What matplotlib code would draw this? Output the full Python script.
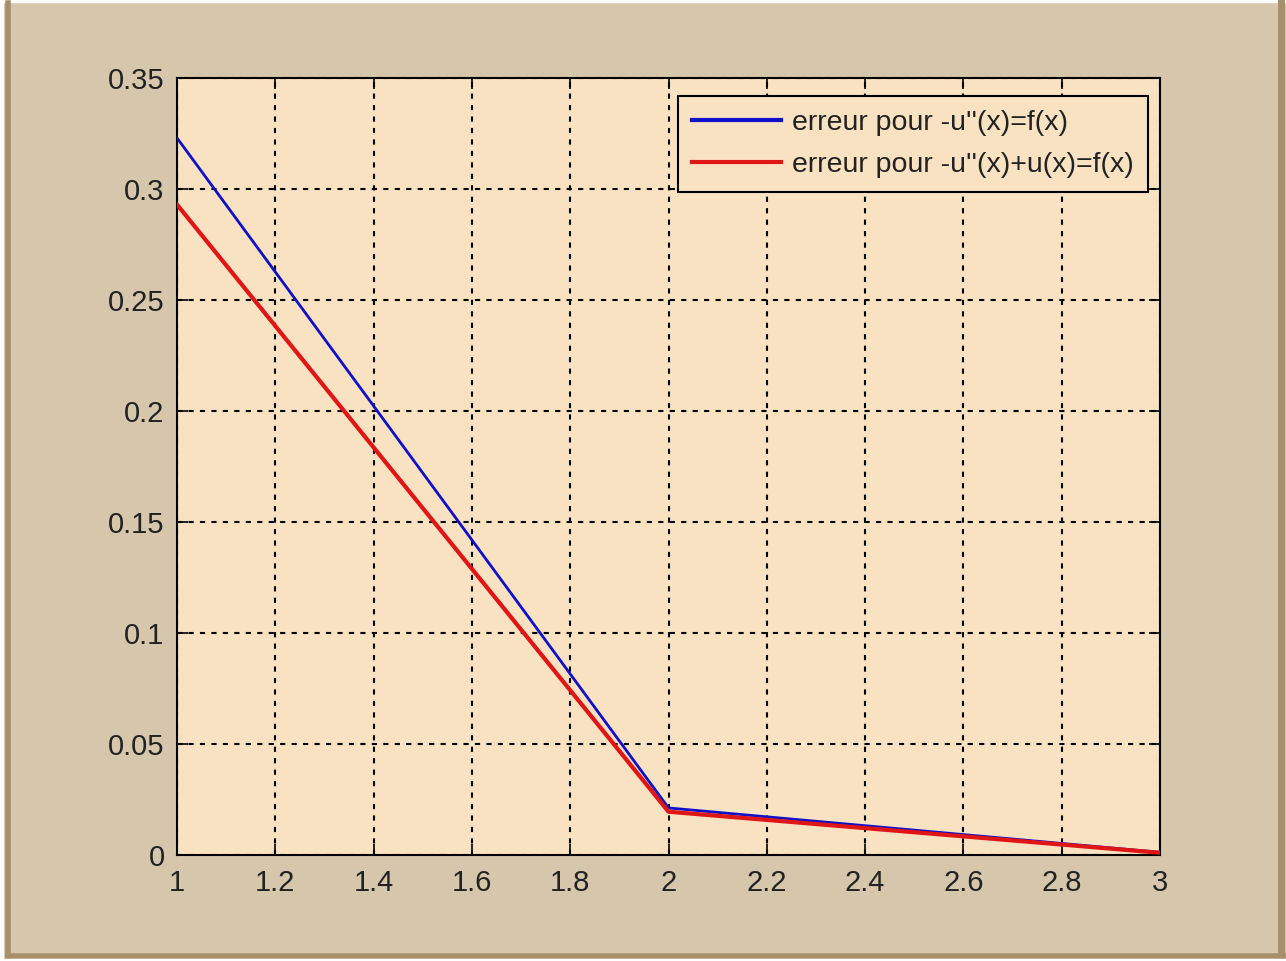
import matplotlib
matplotlib.use("Agg")
import matplotlib.pyplot as plt
from matplotlib.lines import Line2D

# Error of the finite-difference solution at the grid nodes
x_nodes = [1.0, 2.0, 3.0]
err_poisson = [0.323, 0.0212, 0.0012]        # -u''(x) = f(x)
err_helmholtz = [0.293, 0.0195, 0.0010]      # -u''(x) + u(x) = f(x)
labels = ["erreur pour -u''(x)=f(x)", "erreur pour -u''(x)+u(x)=f(x)"]

x_ticks = [1, 1.2, 1.4, 1.6, 1.8, 2, 2.2, 2.4, 2.6, 2.8, 3]
x_tick_labels = ["1", "1.2", "1.4", "1.6", "1.8", "2", "2.2", "2.4", "2.6", "2.8", "3"]
y_ticks = [0, 0.05, 0.1, 0.15, 0.2, 0.25, 0.3, 0.35]
y_tick_labels = ["0", "0.05", "0.1", "0.15", "0.2", "0.25", "0.3", "0.35"]

fig_bg = "#D5C6AC"
ax_bg = "#F8E2C2"
frame_col = "#A88F6C"

plt.rcParams["font.family"] = ["Liberation Sans", "DejaVu Sans"]

W, H = 1286, 961
fig = plt.figure(figsize=(W / 100, H / 100), dpi=100)
fig.patch.set_facecolor(fig_bg)

# window frame: thin white margin and a brown edge on the left, right and bottom
def fx(px):
    return px / W

def fy(py):
    return 1 - py / H

fig.add_artist(Line2D([fx(0), fx(1286)], [fy(1), fy(1)], color="white", lw=2.5))
fig.add_artist(Line2D([fx(2), fx(2)], [fy(0), fy(961)], color="white", lw=3))
fig.add_artist(Line2D([fx(8), fx(8)], [fy(3), fy(957)], color=frame_col, lw=4))
fig.add_artist(Line2D([fx(1281), fx(1281)], [fy(3), fy(957)], color=frame_col, lw=5))
fig.add_artist(Line2D([fx(8), fx(1283)], [fy(956), fy(956)], color=frame_col, lw=4))
fig.add_artist(Line2D([fx(0), fx(1286)], [fy(960), fy(960)], color="white", lw=2.5))

left, right, top, bottom = 177, 1160, 78, 855
ax = fig.add_axes([left / W, 1 - bottom / H, (right - left) / W, (bottom - top) / H])
ax.set_facecolor(ax_bg)

ax.plot(x_nodes, err_poisson, color="#1010C8", linewidth=2.0, label=labels[0], zorder=3)
ax.plot(x_nodes, err_helmholtz, color="#E01515", linewidth=3.0, label=labels[1], zorder=3)

ax.set_xlim(1, 3)
ax.set_ylim(0, 0.35)
ax.set_xticks(x_ticks)
ax.set_xticklabels(x_tick_labels)
ax.set_yticks(y_ticks)
ax.set_yticklabels(y_tick_labels)

ax.grid(True, color="black", linestyle=(0, (2.5, 3)), linewidth=1.5)
ax.tick_params(direction="in", length=8, width=1.2, top=True, right=True,
               labelsize=21, colors="black")
ax.tick_params(axis="x", pad=10)
ax.tick_params(axis="y", pad=9)
for lab in ax.get_xticklabels() + ax.get_yticklabels():
    lab.set_color("#222222")
for s in ax.spines.values():
    s.set_linewidth(1.5)
    s.set_color("black")

leg = ax.legend(loc="upper right", fontsize=20.5, frameon=True, fancybox=False,
                edgecolor="black", facecolor=ax_bg, framealpha=1.0,
                handlelength=3.1, handletextpad=0.4, borderpad=0.5,
                labelspacing=0.55, borderaxespad=0,
                bbox_to_anchor=((1148 - left) / (right - left), (bottom - 96) / (bottom - top)))
leg.get_frame().set_linewidth(1.5)
for line in leg.get_lines():
    line.set_linewidth(3.0)
for t in leg.get_texts():
    t.set_color("#222222")

fig.savefig("out.png", dpi=100, facecolor=fig.get_facecolor())
